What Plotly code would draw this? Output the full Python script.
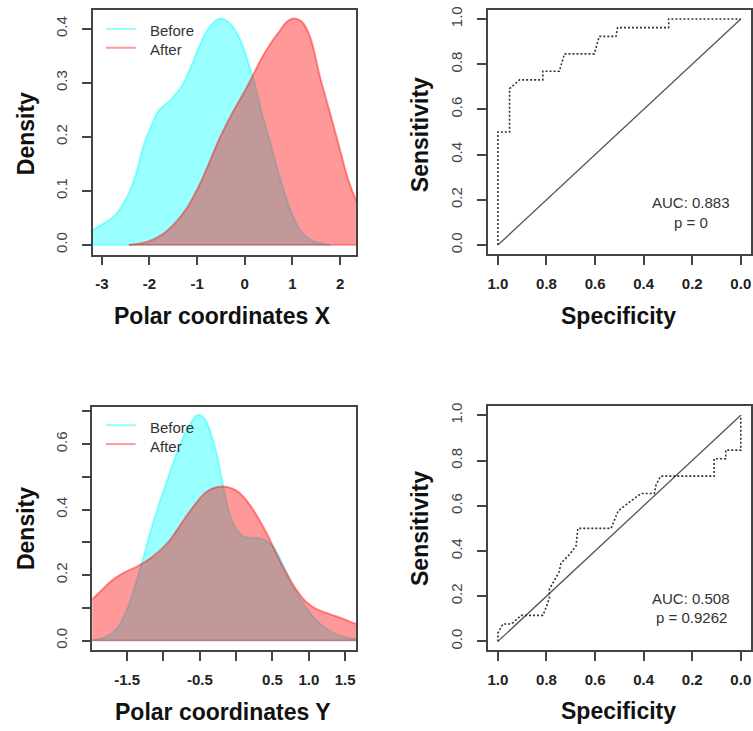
import plotly.graph_objects as go

W, H = 753, 731

# ---------------- data ----------------
# Top-left: density of polar coordinate X
bx_x = [-3.35, -3.21, -3.0, -2.74, -2.5, -2.32, -2.11, -1.97, -1.80, -1.56, -1.31, -1.10, -0.93,
        -0.72, -0.51, -0.30, -0.09, 0.08, 0.19, 0.36, 0.54, 0.71, 0.88, 1.06, 1.23, 1.44, 1.79]
bx_d = [0.018, 0.026, 0.038, 0.053, 0.084, 0.121, 0.188, 0.219, 0.250, 0.268, 0.296, 0.336, 0.373,
        0.406, 0.419, 0.409, 0.379, 0.336, 0.305, 0.244, 0.188, 0.133, 0.084, 0.044, 0.020, 0.007, 0.0]
ax_x = [-2.43, -2.04, -1.77, -1.49, -1.21, -0.93, -0.72, -0.51, -0.30, -0.09, 0.12, 0.33, 0.54,
        0.74, 0.88, 1.02, 1.20, 1.37, 1.58, 1.79, 2.0, 2.17, 2.33, 2.5]
ax_d = [0.0, 0.006, 0.017, 0.038, 0.069, 0.115, 0.158, 0.201, 0.238, 0.271, 0.305, 0.342, 0.373,
        0.397, 0.413, 0.419, 0.413, 0.385, 0.311, 0.244, 0.176, 0.121, 0.084, 0.055]

# Bottom-left: density of polar coordinate Y
by_x = [-2.1, -1.98, -1.81, -1.65, -1.51, -1.40, -1.29, -1.19, -1.08, -0.94, -0.81, -0.67, -0.53,
        -0.44, -0.30, -0.19, -0.10, -0.01, 0.11, 0.24, 0.38, 0.52, 0.66, 0.79, 0.93, 1.07, 1.25,
        1.43, 1.65, 1.8]
by_d = [0.0, 0.002, 0.010, 0.035, 0.091, 0.162, 0.243, 0.324, 0.405, 0.496, 0.577, 0.648, 0.689,
        0.679, 0.598, 0.486, 0.395, 0.344, 0.317, 0.314, 0.309, 0.284, 0.223, 0.162, 0.111, 0.071,
        0.035, 0.015, 0.005, 0.0]
ay_x = [-2.1, -1.98, -1.86, -1.72, -1.54, -1.35, -1.17, -0.94, -0.81, -0.67, -0.53, -0.40, -0.26,
        -0.12, 0.02, 0.15, 0.29, 0.43, 0.56, 0.70, 0.84, 0.97, 1.11, 1.29, 1.48, 1.65, 1.8]
ay_d = [0.11, 0.127, 0.152, 0.182, 0.208, 0.228, 0.253, 0.299, 0.339, 0.385, 0.426, 0.456, 0.469,
        0.469, 0.456, 0.426, 0.380, 0.324, 0.263, 0.203, 0.152, 0.117, 0.096, 0.081, 0.066, 0.051, 0.04]

# ROC curves (specificity, sensitivity)
roc1_spec = [1.0, 1.0, 0.952, 0.952, 0.911, 0.815, 0.815, 0.747, 0.726, 0.603, 0.583, 0.514,
             0.507, 0.297, 0.297, 0.0]
roc1_sens = [0.0, 0.5, 0.5, 0.692, 0.731, 0.731, 0.769, 0.769, 0.846, 0.846, 0.923, 0.923,
             0.962, 0.962, 1.0, 1.0]
roc2_spec = [1.0, 1.0, 0.979, 0.945, 0.904, 0.815, 0.80, 0.788, 0.788, 0.767, 0.748, 0.74, 0.705,
             0.678, 0.671, 0.534, 0.52, 0.505, 0.46, 0.411, 0.356, 0.349, 0.33, 0.110, 0.110,
             0.062, 0.062, 0.0, 0.0]
roc2_sens = [0.0, 0.038, 0.077, 0.077, 0.115, 0.115, 0.154, 0.192, 0.231, 0.269, 0.308, 0.346,
             0.385, 0.423, 0.5, 0.5, 0.538, 0.577, 0.615, 0.654, 0.654, 0.692, 0.731, 0.731,
             0.808, 0.808, 0.846, 0.846, 1.0]
diag_spec = [1.0, 0.0]
diag_sens = [0.0, 1.0]

roc1_text = ["AUC: 0.883", "p = 0"]
roc2_text = ["AUC: 0.508", "p = 0.9262"]
legend_names = ["Before", "After"]

# ---------------- styling ----------------
FONT = "Liberation Sans, Arial, sans-serif"
CYAN = "rgba(0,255,255,0.4)"
RED = "rgba(255,0,0,0.4)"
AXC = "#444444"


def px(x):
    return x / W


def py(y):
    return 1 - y / H


fig = go.Figure()


def add_density(xs, ds, color, xa, ya):
    fig.add_trace(go.Scatter(x=xs, y=ds, mode="lines", fill="tozeroy", fillcolor=color,
                             line=dict(color=color, width=2, shape="spline", smoothing=1.0),
                             xaxis=xa, yaxis=ya, showlegend=False, hoverinfo="skip"))
    # baseline of the density polygon
    fig.add_trace(go.Scatter(x=[xs[0], xs[-1]], y=[0, 0], mode="lines",
                             line=dict(color=color, width=1.5), xaxis=xa, yaxis=ya,
                             showlegend=False, hoverinfo="skip"))


add_density(bx_x, bx_d, CYAN, "x", "y")
add_density(ax_x, ax_d, RED, "x", "y")
add_density(by_x, by_d, CYAN, "x3", "y3")
add_density(ay_x, ay_d, RED, "x3", "y3")

for (sx, sy, xa, ya) in [(roc1_spec, roc1_sens, "x2", "y2"), (roc2_spec, roc2_sens, "x4", "y4")]:
    fig.add_trace(go.Scatter(x=diag_spec, y=diag_sens, mode="lines", xaxis=xa, yaxis=ya,
                             line=dict(color="#555555", width=1.3), showlegend=False))
    fig.add_trace(go.Scatter(x=sx, y=sy, mode="lines", xaxis=xa, yaxis=ya,
                             line=dict(color="#333333", width=1.6, dash="2px,2px"),
                             showlegend=False))

# panel boxes in pixels: (left, top, right, bottom)
boxes = {
    "1": (92, 6, 356, 252),
    "2": (488.5, 6, 751.5, 251.5),
    "3": (91.5, 405, 356, 650),
    "4": (488.5, 404.5, 751.5, 650),
}

common = dict(showline=True, mirror=True, linecolor=AXC, linewidth=1.5, ticks="outside",
              ticklen=9, tickwidth=1.5, tickcolor=AXC, showgrid=False, zeroline=False)
xfont = dict(family=FONT, size=15, color="#222222", weight="bold")
yfont = dict(family=FONT, size=15, color="#444444")

layout = dict(width=W, height=H, margin=dict(l=0, r=0, t=0, b=0),
              plot_bgcolor="white", paper_bgcolor="white", showlegend=False)

xcfg = {
    "1": dict(range=[-3.19, 2.335], tickvals=[-3, -2, -1, 0, 1, 2],
              ticktext=["-3", "-2", "-1", "0", "1", "2"]),
    "2": dict(range=[1.04, -0.04], tickvals=[1.0, 0.8, 0.6, 0.4, 0.2, 0.0],
              ticktext=["1.0", "0.8", "0.6", "0.4", "0.2", "0.0"]),
    "3": dict(range=[-1.98, 1.65], tickvals=[-1.5, -1.0, -0.5, 0.0, 0.5, 1.0, 1.5],
              ticktext=["-1.5", "", "-0.5", "", "0.5", "1.0", "1.5"]),
    "4": dict(range=[1.04, -0.04], tickvals=[1.0, 0.8, 0.6, 0.4, 0.2, 0.0],
              ticktext=["1.0", "0.8", "0.6", "0.4", "0.2", "0.0"]),
}
ycfg = {
    "1": dict(range=[-0.018, 0.435], tickvals=[0, 0.1, 0.2, 0.3, 0.4],
              ticktext=["0.0", "0.1", "0.2", "0.3", "0.4"]),
    "2": dict(range=[-0.04, 1.04], tickvals=[0, 0.2, 0.4, 0.6, 0.8, 1.0],
              ticktext=["0.0", "0.2", "0.4", "0.6", "0.8", "1.0"]),
    "3": dict(range=[-0.03, 0.714], tickvals=[0, 0.1, 0.2, 0.3, 0.4, 0.5, 0.6, 0.7],
              ticktext=["0.0", "", "0.2", "", "0.4", "", "0.6", ""]),
    "4": dict(range=[-0.04, 1.04], tickvals=[0, 0.2, 0.4, 0.6, 0.8, 1.0],
              ticktext=["0.0", "0.2", "0.4", "0.6", "0.8", "1.0"]),
}

for k, (l, t, r, b) in boxes.items():
    xn = "xaxis" if k == "1" else "xaxis" + k
    yn = "yaxis" if k == "1" else "yaxis" + k
    anchor_y = "y" if k == "1" else "y" + k
    anchor_x = "x" if k == "1" else "x" + k
    layout[xn] = dict(domain=[px(l), px(r)], anchor=anchor_y, tickfont=xfont,
                      tickmode="array", ticklabelstandoff=6, **common, **xcfg[k])
    layout[yn] = dict(domain=[py(b), py(t)], anchor=anchor_x, tickfont=yfont,
                      tickmode="array", tickangle=-90, ticklabelstandoff=9, **common, **ycfg[k])

fig.update_layout(**layout)

ann = []
title_font = dict(family=FONT, size=23, color="#111111", weight="bold")
# axis titles
for text, x, y, ang in [("Density", 25, 130, -90), ("Density", 25, 527, -90),
                        ("Sensitivity", 420, 131, -90), ("Sensitivity", 420, 527, -90),
                        ("Polar coordinates X", 222.5, 314, 0), ("Polar coordinates Y", 222.5, 712, 0),
                        ("Specificity", 619, 314, 0), ("Specificity", 619, 711, 0)]:
    ann.append(dict(text=text, x=px(x), y=py(y), xref="paper", yref="paper", showarrow=False,
                    xanchor="center", yanchor="middle", textangle=ang, font=title_font))

# AUC texts
txt_font = dict(family=FONT, size=15, color="#333333")
for lines, ys in [(roc1_text, (200, 220)), (roc2_text, (598, 617))]:
    for s, y in zip(lines, ys):
        ann.append(dict(text=s, x=px(692), y=py(y), xref="paper", yref="paper", showarrow=False,
                        xanchor="center", yanchor="middle", font=txt_font))

# legends (line key + label)
shapes = []
leg_font = dict(family=FONT, size=15, color="#333333")
for (y1, y2) in [(25, 44), (423.5, 442.5)]:
    for name, y, col in [(legend_names[0], y1, "rgba(0,255,255,0.45)"),
                         (legend_names[1], y2, "rgba(255,0,0,0.4)")]:
        shapes.append(dict(type="line", xref="paper", yref="paper", x0=px(105), x1=px(135),
                           y0=py(y), y1=py(y), line=dict(color=col, width=2)))
        ann.append(dict(text=name, x=px(147), y=py(y + 2), xref="paper", yref="paper",
                        showarrow=False, xanchor="left", yanchor="middle", font=leg_font))

fig.update_layout(annotations=ann, shapes=shapes)

fig.write_html("out.html")
